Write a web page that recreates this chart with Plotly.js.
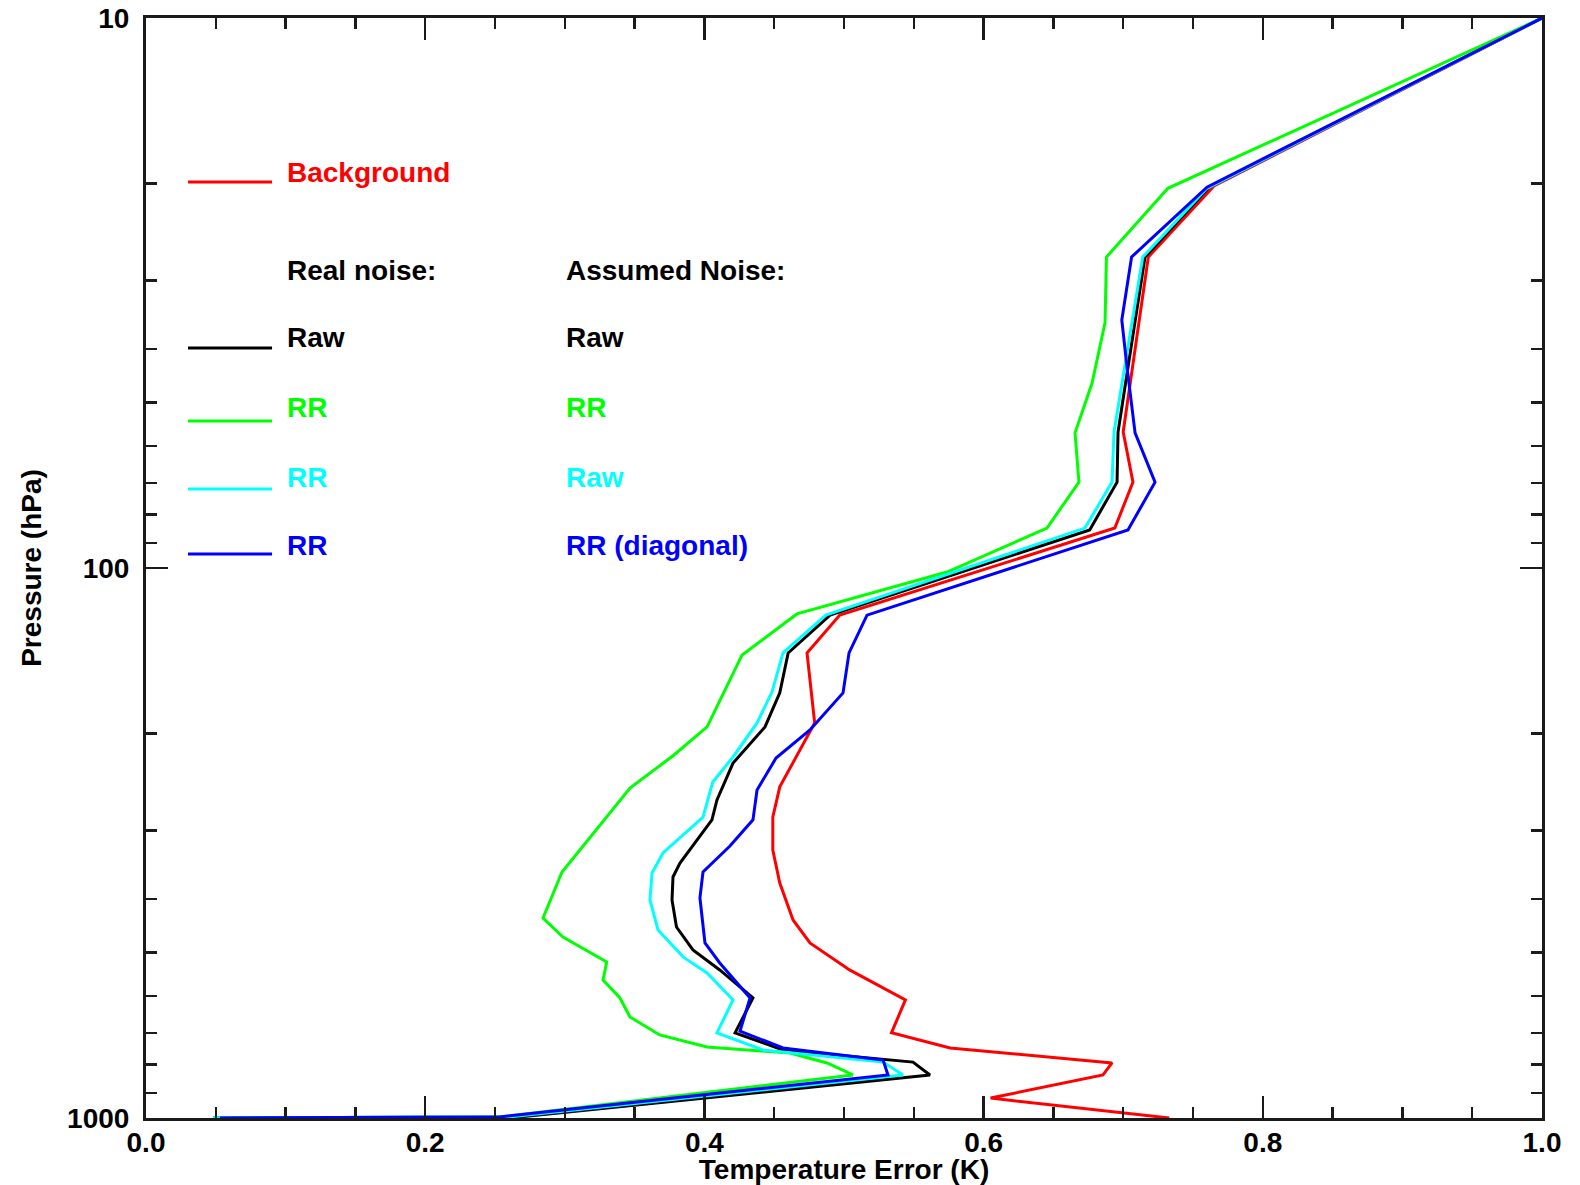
<!DOCTYPE html>
<html>
<head>
<meta charset="utf-8">
<script src="https://cdn.plot.ly/plotly-3.0.1.min.js"></script>
<style>html,body{margin:0;padding:0;background:#fff;}#chart{width:1580px;height:1185px;}</style>
</head>
<body>
<div id="chart"></div>
<script>
// Background (red)
const bgX = [1.0,0.765,0.718,0.700,0.707,0.694,0.497,0.4735,0.479,0.454,0.449,0.449,0.454,0.4635,0.4756,0.504,0.544,0.534,0.576,0.692,0.6855,0.605,0.733];
const bgP = [10,20.2,27.2,56.6,69.8,84.6,121.8,142.7,191.3,250,283.7,325.7,373.9,436.5,480.6,538,610,700,746,794,835,920,1000];
// Real noise Raw / Assumed Raw (black)
const rawX = [1.0,0.7615,0.7156,0.6963,0.6956,0.676,0.49,0.46,0.454,0.4434,0.4205,0.409,0.4054,0.3825,0.3775,0.3768,0.380,0.3918,0.411,0.4348,0.422,0.4563,0.5494,0.5616,0.268,0.048];
const rawP = [10,20.3,27.2,56.6,69.8,85.3,121.8,142.7,168.7,194.5,226.3,264.1,287,343.9,364.6,401.5,449.5,494.9,538,605,700,752,791.3,835,995.4,1000];
// Real RR / Assumed RR (green)
const grX = [1.0,0.732,0.688,0.687,0.6777,0.6655,0.6683,0.6454,0.5738,0.4663,0.427,0.4019,0.378,0.3467,0.298,0.2844,0.2987,0.330,0.3274,0.3395,0.3467,0.368,0.4019,0.4613,0.4878,0.5064,0.2536,0.048];
const grP = [10,20.4,27.2,35.8,46.1,56.8,69.8,84.6,101.7,121.2,143.9,194.5,219,251.2,357,432.9,468.8,520.5,561,605,655.3,706.3,743,761.9,794.3,835,995.4,1000];
// Real RR / Assumed Raw (cyan)
const cyX = [1.0,0.760,0.714,0.6934,0.692,0.6726,0.487,0.4563,0.4484,0.4377,0.4205,0.406,0.399,0.3703,0.3625,0.361,0.3668,0.3847,0.4019,0.4205,0.409,0.442,0.528,0.5423,0.2607,0.048];
const cyP = [10,20.4,27.2,56.6,69.8,84.6,121.8,142.7,168.1,191.3,220.6,244.9,283.7,329.7,358.5,401.5,455,509.4,545,610.2,700,752,791.3,835,995.4,1000];
// Real RR / Assumed RR (diagonal) (blue)
const bluX = [1.0,0.760,0.706,0.699,0.7027,0.7085,0.7228,0.7034,0.5165,0.5036,0.4993,0.4756,0.4513,0.4377,0.4348,0.4183,0.399,0.3968,0.4004,0.411,0.4327,0.4255,0.4563,0.528,0.5315,0.2536,0.053];
const bluP = [10,20.3,27.2,35.4,43.1,56.8,69.8,85.3,121.8,142.7,168.7,197,221.6,253.3,287,320.3,357,398,480.6,522.5,605,694.8,746,784.6,835,995.4,1000];

const yTickVals = [10,100,1000];
const yTickText = ['10','100','1000'];
const yMinorVals = [20,30,40,50,60,70,80,90,200,300,400,500,600,700,800,900];

const seriesColors = ['#ff0000','#000000','#00ff00','#00ffff','#0000ff'];
const legendLeft = ['Raw','RR','RR','RR'];
const legendRight = ['Raw','RR','Raw','RR (diagonal)'];

const FONT = 'Liberation Sans, Arial, Helvetica, sans-serif';
const AX = '#1a1a1a';
const LW = 3;

function tr(x, p, c) {
  return {x: x, y: p, type: 'scatter', mode: 'lines', line: {color: c, width: LW}, hoverinfo: 'skip'};
}
const data = [
  tr(bgX, bgP, seriesColors[0]),
  tr(rawX, rawP, seriesColors[1]),
  tr(grX, grP, seriesColors[2]),
  tr(cyX, cyP, seriesColors[3]),
  tr(bluX, bluP, seriesColors[4])
];

// legend layout (paper coords)
const legLineX = [0.0301, 0.0903];
const legLineY = [0.8509, 0.700, 0.6336, 0.5718, 0.5127];
const legTextY = [0.8591, 0.7091, 0.6455, 0.5827, 0.5209];
const headerY = 0.7709;
const col1X = 0.0995, col2X = 0.2995;

const shapes = legLineY.map((y, i) => ({
  type: 'line', xref: 'paper', yref: 'paper',
  x0: legLineX[0], x1: legLineX[1], y0: y, y1: y,
  line: {color: seriesColors[i], width: LW}
}));

function ann(x, y, text, color) {
  return {xref: 'paper', yref: 'paper', x: x, y: y, xanchor: 'left', yanchor: 'middle',
    showarrow: false, text: text, font: {family: FONT, size: 28, color: color, weight: 'bold'}};
}
const annotations = [
  ann(col1X, legTextY[0], 'Background', seriesColors[0]),
  ann(col1X, headerY, 'Real noise:', '#000'),
  ann(col2X, headerY, 'Assumed Noise:', '#000')
];
for (let i = 0; i < 4; i++) {
  annotations.push(ann(col1X, legTextY[i + 1], legendLeft[i], seriesColors[i + 1]));
  annotations.push(ann(col2X, legTextY[i + 1], legendRight[i], seriesColors[i + 1]));
}

const layout = {
  width: 1580, height: 1185,
  margin: {l: 146, r: 38, t: 18, b: 67, pad: 0},
  paper_bgcolor: '#fff', plot_bgcolor: '#fff',
  showlegend: false,
  font: {family: FONT, size: 28, color: '#000', weight: 'bold'},
  xaxis: {
    range: [0, 1], tick0: 0, dtick: 0.2, tickformat: '.1f',
    ticks: 'inside', ticklen: 22, tickwidth: 2.5, tickcolor: AX,
    showline: true, linewidth: 3, linecolor: AX, mirror: 'ticks',
    showgrid: false, zeroline: false,
    minor: {tick0: 0, dtick: 0.05, ticks: 'inside', ticklen: 11, tickwidth: 2.5, tickcolor: AX, showgrid: false},
    tickfont: {family: FONT, size: 28, weight: 'bold', color: '#000'},
    ticklabelstandoff: -3,
    title: {text: 'Temperature Error (K)', font: {family: FONT, size: 28, weight: 'bold', color: '#000'}, standoff: 0}
  },
  yaxis: {
    type: 'log', range: [3, 1],
    tickmode: 'array', tickvals: yTickVals, ticktext: yTickText,
    ticks: 'inside', ticklen: 22, tickwidth: 2.5, tickcolor: AX,
    showline: true, linewidth: 3, linecolor: AX, mirror: 'ticks',
    showgrid: false, zeroline: false,
    minor: {tickmode: 'array', tickvals: yMinorVals, ticks: 'inside', ticklen: 11, tickwidth: 2.5, tickcolor: AX, showgrid: false},
    tickfont: {family: FONT, size: 28, weight: 'bold', color: '#000'},
    ticklabelstandoff: 8,
    title: {text: 'Pressure (hPa)', font: {family: FONT, size: 28, weight: 'bold', color: '#000'}, standoff: 18}
  },
  shapes: shapes,
  annotations: annotations
};

Plotly.newPlot('chart', data, layout, {staticPlot: true, displayModeBar: false});
</script>
</body>
</html>
